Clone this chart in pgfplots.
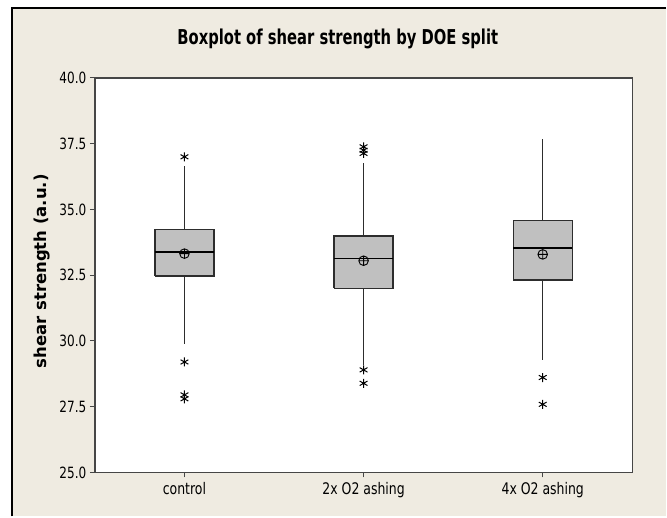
\documentclass[border=0pt]{standalone}
\usepackage{fontspec}
\setmainfont{DejaVu Sans}[FakeStretch=0.78]
\newfontfamily\titlefont{DejaVu Sans}[FakeStretch=0.72]
\newfontfamily\ylabfont{DejaVu Sans}
\usepackage{pgfplots}
\pgfplotsset{compat=1.18}
\definecolor{bgbeige}{RGB}{239,235,225}
\definecolor{axisgray}{RGB}{70,70,70}
\definecolor{boxfill}{RGB}{192,192,192}
\definecolor{boxedge}{RGB}{45,45,45}
\begin{document}
\begin{tikzpicture}
\fill[white] (0pt,0pt) rectangle (667pt,517pt);
\fill[bgbeige] (12pt,0pt) rectangle (667pt,509pt);
\draw[black, line width=1.5pt] (12pt,0pt) -- (12pt,509pt) -- (667pt,509pt);
\path[use as bounding box] (0pt,0pt) rectangle (667pt,517pt);
\begin{axis}[
  at={(95pt,44pt)}, anchor=south west,
  scale only axis, width=538pt, height=395pt,
  xmin=0.5, xmax=3.5, ymin=25, ymax=40,
  axis background/.style={fill=white},
  axis line style={draw=axisgray, line width=1.5pt},
  xtick={1,2,3}, xticklabels={control,2x O2 ashing,4x O2 ashing},
  ytick={25,27.5,30,32.5,35,37.5,40},
  yticklabel style={/pgf/number format/fixed, /pgf/number format/fixed zerofill, /pgf/number format/precision=1, font=\fontsize{15.5}{18}\selectfont},
  /pgf/number format/assume math mode=true,
  tick align=outside, major tick length=5pt,
  xtick pos=left, ytick pos=left,
  tick style={draw=axisgray, line width=1pt},
  xticklabel style={font=\fontsize{16}{19}\selectfont, yshift=-1.5pt},
  title={Boxplot of shear strength by DOE split},
  title style={font=\titlefont\bfseries\fontsize{20.5}{24}\selectfont, at={(axis description cs:0.452,1.0835)}, anchor=center},
  ylabel={shear strength (a.u.)},
  ylabel style={font=\ylabfont\bfseries\fontsize{16.5}{19}\selectfont, at={(axis description cs:-0.0985,0.51)}, anchor=center},
  clip=false,
]
% ---- control (x = 1) ----
\addplot[draw=boxedge, fill=boxfill, line width=1.3pt] coordinates {(0.835,32.47) (1.165,32.47) (1.165,34.24) (0.835,34.24) (0.835,32.47)};
\addplot[black, line width=1.2pt] coordinates {(0.835,33.38) (1.165,33.38)};
\addplot[boxedge, line width=0.9pt] coordinates {(1,34.24) (1,36.67)};
\addplot[boxedge, line width=0.9pt] coordinates {(1,32.47) (1,29.87)};
\addplot[only marks, mark=asterisk, mark size=4.5pt, mark options={black, line width=1pt}] coordinates {(1,37.0) (1,29.2) (1,27.95) (1,27.8)};
% ---- 2x O2 ashing (x = 2) ----
\addplot[draw=boxedge, fill=boxfill, line width=1.3pt] coordinates {(1.835,32.0) (2.165,32.0) (2.165,33.99) (1.835,33.99) (1.835,32.0)};
\addplot[black, line width=1.2pt] coordinates {(1.835,33.13) (2.165,33.13)};
\addplot[boxedge, line width=0.9pt] coordinates {(2,33.99) (2,36.77)};
\addplot[boxedge, line width=0.9pt] coordinates {(2,32.0) (2,29.08)};
\addplot[only marks, mark=asterisk, mark size=4.5pt, mark options={black, line width=1pt}] coordinates {(2,37.38) (2,37.25) (2,37.13) (2,28.9) (2,28.39)};
% ---- 4x O2 ashing (x = 3) ----
\addplot[draw=boxedge, fill=boxfill, line width=1.3pt] coordinates {(2.835,32.32) (3.165,32.32) (3.165,34.59) (2.835,34.59) (2.835,32.32)};
\addplot[black, line width=1.2pt] coordinates {(2.835,33.53) (3.165,33.53)};
\addplot[boxedge, line width=0.9pt] coordinates {(3,34.59) (3,37.66)};
\addplot[boxedge, line width=0.9pt] coordinates {(3,32.32) (3,29.27)};
\addplot[only marks, mark=asterisk, mark size=4.5pt, mark options={black, line width=1pt}] coordinates {(3,28.61) (3,27.59)};
% ---- means ----
\addplot[only marks, mark=oplus, mark size=4.8pt, mark options={black, line width=0.9pt, fill=none}]
  coordinates {(1,33.32) (2,33.05) (3,33.29)};
\end{axis}
\end{tikzpicture}
\end{document}
